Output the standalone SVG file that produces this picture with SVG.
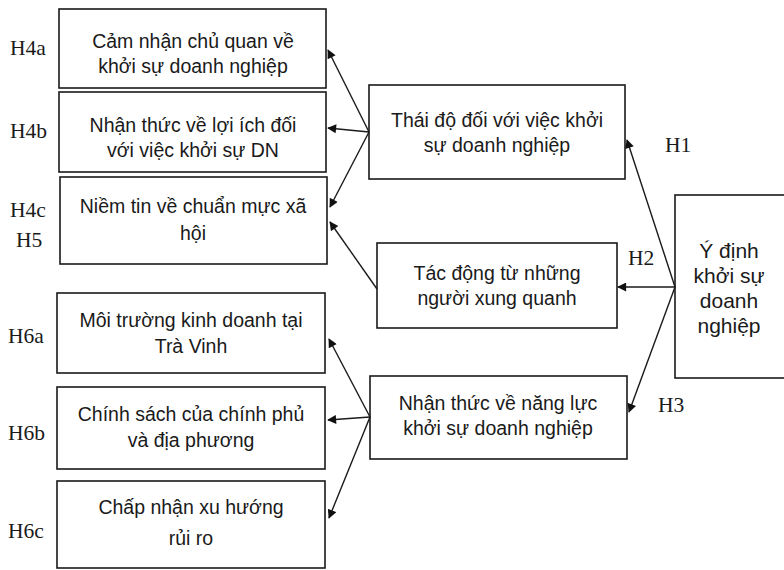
<svg xmlns="http://www.w3.org/2000/svg" width="784" height="570" viewBox="0 0 784 570">
<style>
.box{fill:#fff;stroke:#1a1a1a;stroke-width:1.6}
.t{font-family:"Liberation Sans",Arial,sans-serif;font-size:19.5px;fill:#1a1a1a;text-anchor:middle}
.t2{font-family:"Liberation Sans",Arial,sans-serif;font-size:21px;fill:#1a1a1a;text-anchor:middle}
.h{font-family:"Liberation Serif","Times New Roman",serif;font-size:21.5px;fill:#1a1a1a}
.c{stroke:#1a1a1a;stroke-width:1.4;fill:none;marker-end:url(#ah)}
</style>
<defs>
<marker id="ah" viewBox="0 0 10 10" refX="9" refY="5" markerWidth="10" markerHeight="9" markerUnits="userSpaceOnUse" orient="auto">
<path d="M0,0 L10,5 L0,10 Z" fill="#111"/>
</marker>
</defs>
<rect width="784" height="570" fill="#fff"/>

<g id="n-h4a">
<rect class="box" x="59" y="9" width="267" height="79"/>
<text class="t" x="193" y="48">Cảm nhận chủ quan về</text>
<text class="t" x="193" y="73">khởi sự doanh nghiệp</text>
<text class="h" x="10" y="55">H4a</text>
</g>
<g id="n-h4b">
<rect class="box" x="59" y="92" width="267" height="80"/>
<text class="t" x="193" y="132">Nhận thức về lợi ích đối</text>
<text class="t" x="193" y="157">với việc khởi sự DN</text>
<text class="h" x="10" y="138">H4b</text>
</g>
<g id="n-h4c">
<rect class="box" x="60" y="177" width="267" height="87"/>
<text class="t" x="193" y="213">Niềm tin về chuẩn mực xã</text>
<text class="t" x="193" y="240">hội</text>
<text class="h" x="10" y="217">H4c</text>
<text class="h" x="16" y="247">H5</text>
</g>
<g id="n-h6a">
<rect class="box" x="57" y="293" width="268" height="80"/>
<text class="t" x="191" y="327">Môi trường kinh doanh tại</text>
<text class="t" x="191" y="353">Trà Vinh</text>
<text class="h" x="8" y="343">H6a</text>
</g>
<g id="n-h6b">
<rect class="box" x="57" y="387" width="268" height="82"/>
<text class="t" x="191" y="421">Chính sách của chính phủ</text>
<text class="t" x="191" y="447">và địa phương</text>
<text class="h" x="8" y="440">H6b</text>
</g>
<g id="n-h6c">
<rect class="box" x="57" y="481" width="268" height="87"/>
<text class="t" x="191" y="514">Chấp nhận xu hướng</text>
<text class="t" x="191" y="545">rủi ro</text>
<text class="h" x="8" y="538">H6c</text>
</g>

<g id="n-thaido">
<rect class="box" x="369" y="85" width="256" height="94"/>
<text class="t" x="497" y="127">Thái độ đối với việc khởi</text>
<text class="t" x="497" y="152">sự doanh nghiệp</text>
</g>
<g id="n-tacdong">
<rect class="box" x="377" y="243" width="240" height="85"/>
<text class="t" x="497" y="280">Tác động từ những</text>
<text class="t" x="497" y="305">người xung quanh</text>
</g>
<g id="n-nangluc">
<rect class="box" x="370" y="376" width="257" height="83"/>
<text class="t" x="498" y="410">Nhận thức về năng lực</text>
<text class="t" x="498" y="435">khởi sự doanh nghiệp</text>
</g>
<g id="n-ydinh">
<rect class="box" x="675" y="195" width="120" height="183"/>
<text class="t2" x="729" y="258">Ý định</text>
<text class="t2" x="729" y="283">khởi sự</text>
<text class="t2" x="729" y="308">doanh</text>
<text class="t2" x="729" y="333">nghiệp</text>
</g>

<g id="labels">
<text class="h" x="665" y="152">H1</text>
<text class="h" x="628" y="265">H2</text>
<text class="h" x="658" y="412">H3</text>
</g>

<g id="connectors">
<line class="c" x1="369" y1="132" x2="328" y2="50"/>
<line class="c" x1="369" y1="132" x2="328" y2="128"/>
<line class="c" x1="369" y1="132" x2="330" y2="207"/>
<line class="c" x1="377" y1="289" x2="330" y2="222"/>
<line class="c" x1="370" y1="417" x2="329" y2="339"/>
<line class="c" x1="370" y1="417" x2="328" y2="420"/>
<line class="c" x1="370" y1="417" x2="329" y2="518"/>
<line class="c" x1="675" y1="287" x2="627" y2="140"/>
<line class="c" x1="675" y1="287" x2="618" y2="287"/>
<line class="c" x1="675" y1="287" x2="629" y2="412"/>
</g>
</svg>
